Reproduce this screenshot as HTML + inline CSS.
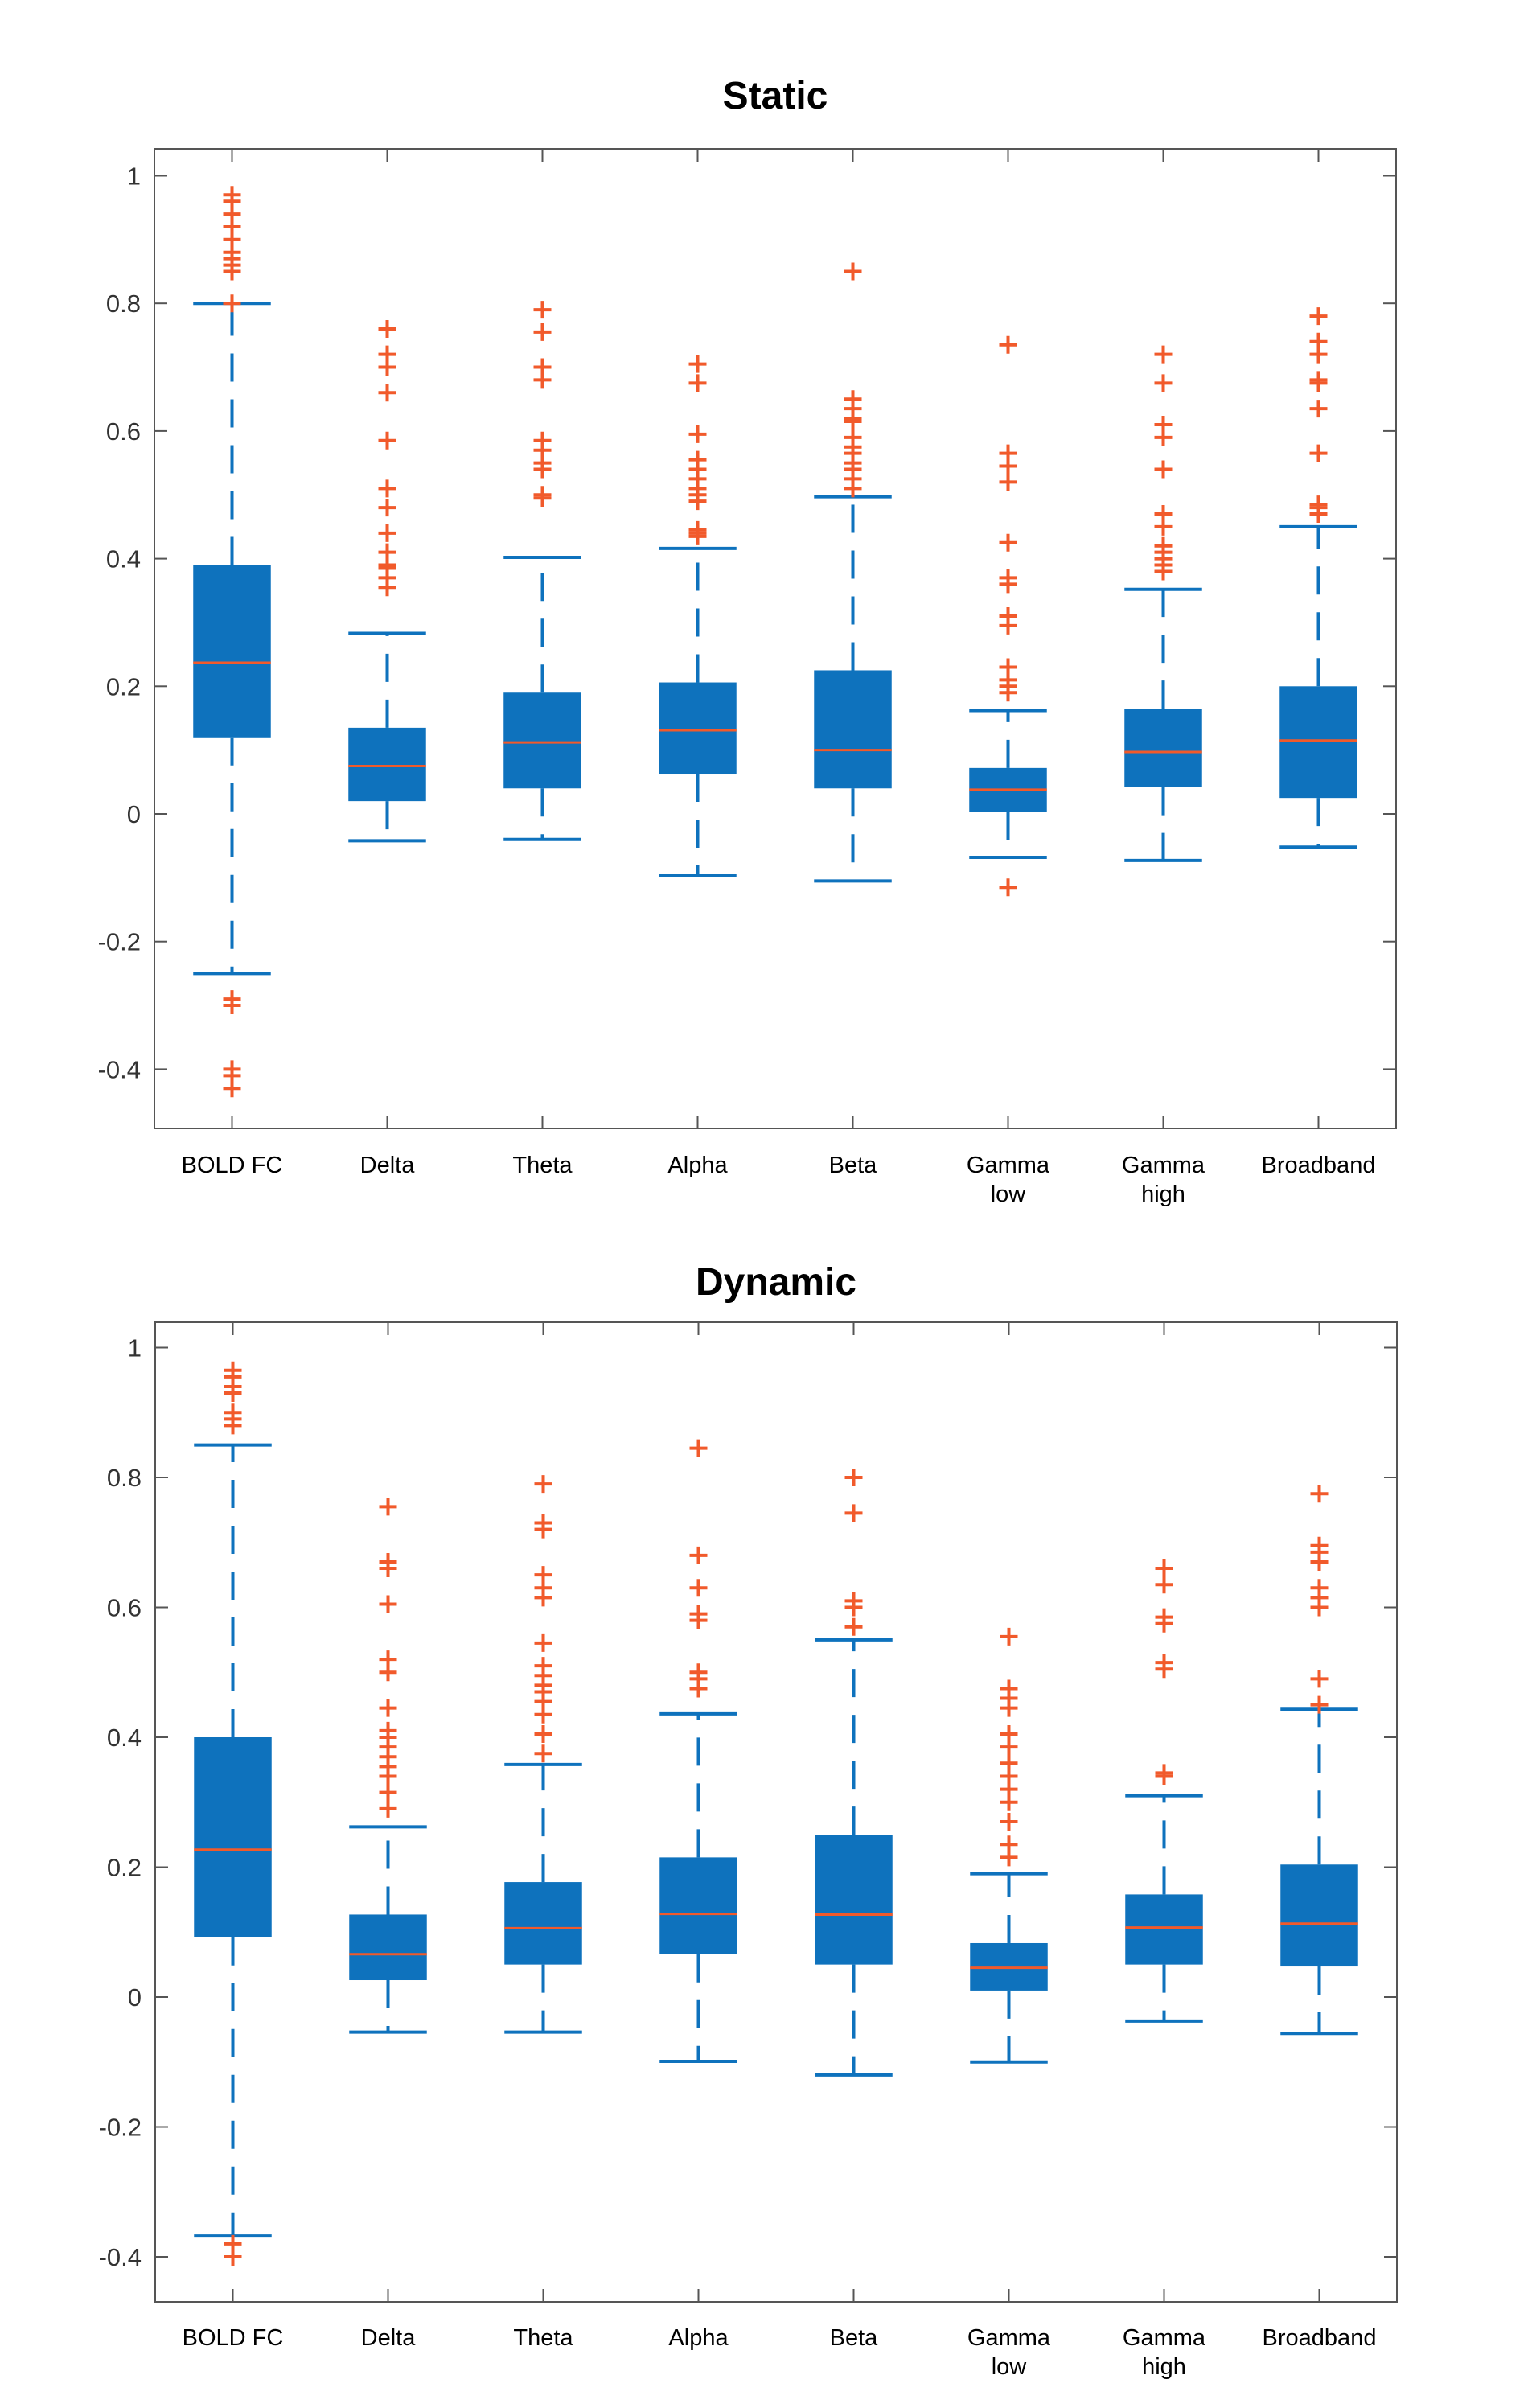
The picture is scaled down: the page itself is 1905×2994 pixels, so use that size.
<!DOCTYPE html>
<html><head><meta charset="utf-8"><style>
html,body{margin:0;padding:0;background:#fff;}
svg text{font-family:"Liberation Sans",sans-serif;}
</style></head><body>
<svg id="chart" width="1905" height="2989" xmlns="http://www.w3.org/2000/svg"></svg>
<script>
const categories = [["BOLD FC"],["Delta"],["Theta"],["Alpha"],["Beta"],["Gamma","low"],["Gamma","high"],["Broadband"]];
const yTicks = [-0.4,-0.2,0,0.2,0.4,0.6,0.8,1];
const yTickLabels = ["-0.4","-0.2","0","0.2","0.4","0.6","0.8","1"];
// static: [whiskerLow, q1, median, q3, whiskerHigh]
const staticStats = [
 [-0.25,0.12,0.237,0.39,0.80],
 [-0.042,0.02,0.075,0.135,0.283],
 [-0.04,0.04,0.112,0.19,0.402],
 [-0.097,0.063,0.131,0.206,0.416],
 [-0.105,0.04,0.10,0.225,0.497],
 [-0.068,0.003,0.038,0.072,0.162],
 [-0.073,0.042,0.097,0.165,0.352],
 [-0.052,0.025,0.115,0.20,0.45]];
const staticOutliers = [
 [0.97,0.96,0.94,0.92,0.90,0.90,0.88,0.87,0.86,0.85,0.85,0.80,-0.29,-0.30,-0.40,-0.41,-0.43],
 [0.76,0.72,0.70,0.66,0.585,0.51,0.48,0.44,0.41,0.39,0.385,0.37,0.355],
 [0.79,0.755,0.70,0.68,0.585,0.57,0.55,0.54,0.50,0.495],
 [0.705,0.675,0.595,0.555,0.54,0.525,0.51,0.50,0.49,0.445,0.44,0.435],
 [0.85,0.65,0.635,0.62,0.615,0.59,0.575,0.565,0.55,0.54,0.525,0.51],
 [0.735,0.565,0.545,0.52,0.425,0.37,0.36,0.31,0.295,0.23,0.21,0.20,0.19,-0.115],
 [0.72,0.675,0.61,0.59,0.54,0.47,0.45,0.42,0.41,0.40,0.39,0.38],
 [0.78,0.74,0.72,0.68,0.675,0.635,0.565,0.485,0.48,0.47]];
const dynamicStats = [
 [-0.368,0.092,0.227,0.40,0.85],
 [-0.054,0.026,0.066,0.127,0.262],
 [-0.054,0.05,0.106,0.177,0.358],
 [-0.099,0.066,0.128,0.215,0.436],
 [-0.12,0.05,0.127,0.25,0.55],
 [-0.10,0.01,0.045,0.083,0.19],
 [-0.037,0.05,0.107,0.158,0.31],
 [-0.056,0.047,0.113,0.204,0.443]];
const dynamicOutliers = [
 [0.965,0.955,0.94,0.93,0.90,0.89,0.88,-0.38,-0.40],
 [0.755,0.67,0.66,0.605,0.52,0.50,0.445,0.41,0.40,0.385,0.37,0.355,0.34,0.315,0.29],
 [0.79,0.73,0.72,0.65,0.63,0.615,0.545,0.51,0.495,0.48,0.47,0.455,0.435,0.405,0.375],
 [0.845,0.68,0.63,0.59,0.58,0.50,0.49,0.475],
 [0.80,0.745,0.61,0.60,0.57],
 [0.555,0.475,0.46,0.445,0.405,0.385,0.36,0.34,0.32,0.30,0.27,0.235,0.215],
 [0.66,0.635,0.585,0.575,0.515,0.505,0.345,0.34],
 [0.775,0.695,0.685,0.67,0.63,0.615,0.60,0.49,0.45]];

const NS="http://www.w3.org/2000/svg";
const svg=document.getElementById('chart');
function mk(tag,attrs,parent){const e=document.createElementNS(NS,tag);for(const k in attrs)e.setAttribute(k,attrs[k]);(parent||svg).appendChild(e);return e;}
const BLUE="#0E72BD", ORANGE="#F15A2B", AX="#555";

function panel(cfg){
  const g=mk('g',{});
  
  
  const yS=v=>cfg.y0-(v)*cfg.unit;
  const step=(cfg.right-cfg.left)/8;
  const xS=i=>cfg.left+step*(i+0.5);
  const t=mk('text',{x:(cfg.left+cfg.right)/2,y:cfg.titleY,'text-anchor':'middle','font-size':48,'font-weight':'bold',fill:'#000'},g);
  t.textContent=cfg.title;
  
  
  const frame=mk('rect',{x:cfg.left,y:cfg.top,width:cfg.right-cfg.left,height:cfg.bottom-cfg.top,fill:'none',stroke:AX,'stroke-width':2},g);
  
  
  yTicks.forEach((v,i)=>{
    const y=yS(v);
    mk('line',{x1:cfg.left,x2:cfg.left+16,y1:y,y2:y,stroke:AX,'stroke-width':2},g);
    mk('line',{x1:cfg.right,x2:cfg.right-16,y1:y,y2:y,stroke:AX,'stroke-width':2},g);
    const l=mk('text',{x:cfg.left-17,y:y+11,'text-anchor':'end','font-size':31,fill:'#333'},g);
    l.textContent=yTickLabels[i];
    
    
  });
  categories.forEach((c,i)=>{
    const x=xS(i);
    mk('line',{x1:x,x2:x,y1:cfg.bottom,y2:cfg.bottom-16,stroke:AX,'stroke-width':2},g);
    mk('line',{x1:x,x2:x,y1:cfg.top,y2:cfg.top+16,stroke:AX,'stroke-width':2},g);
    c.forEach((line,j)=>{
      const l=mk('text',{x:x,y:cfg.labelY+j*36,'text-anchor':'middle','font-size':29,fill:'#000'},g);
      l.textContent=line;
      
      
    });
    const s=cfg.stats[i];
    const bg=mk('g',{},g);
    
    
    const bw=step*0.5, cw=step*0.25;
    mk('line',{x1:x,x2:x,y1:yS(s[3]),y2:yS(s[4]),stroke:BLUE,'stroke-width':4,'stroke-dasharray':'35 22'},bg);
    mk('line',{x1:x,x2:x,y1:yS(s[1]),y2:yS(s[0]),stroke:BLUE,'stroke-width':4,'stroke-dasharray':'35 22'},bg);
    mk('line',{x1:x-cw,x2:x+cw,y1:yS(s[4]),y2:yS(s[4]),stroke:BLUE,'stroke-width':4},bg);
    mk('line',{x1:x-cw,x2:x+cw,y1:yS(s[0]),y2:yS(s[0]),stroke:BLUE,'stroke-width':4},bg);
    mk('rect',{x:x-bw/2,y:yS(s[3]),width:bw,height:yS(s[1])-yS(s[3]),fill:BLUE},bg);
    mk('line',{x1:x-bw/2,x2:x+bw/2,y1:yS(s[2]),y2:yS(s[2]),stroke:ORANGE,'stroke-width':3},bg);
    cfg.outliers[i].forEach(v=>{
      const y=yS(v);
      const p=mk('path',{d:`M${x-11},${y}H${x+11}M${x},${y-11}V${y+11}`,stroke:ORANGE,'stroke-width':4,fill:'none'},bg);
      
      
    });
  });
}
panel({name:'static',title:'Static',stats:staticStats,outliers:staticOutliers,left:192,right:1736,top:185,bottom:1403,y0:1012,unit:793.5,titleY:135,labelY:1458});
panel({name:'dynamic',title:'Dynamic',stats:dynamicStats,outliers:dynamicOutliers,left:193,right:1737,top:1644,bottom:2862,y0:2483,unit:807.5,titleY:1610,labelY:2916});
</script>
</body></html>
